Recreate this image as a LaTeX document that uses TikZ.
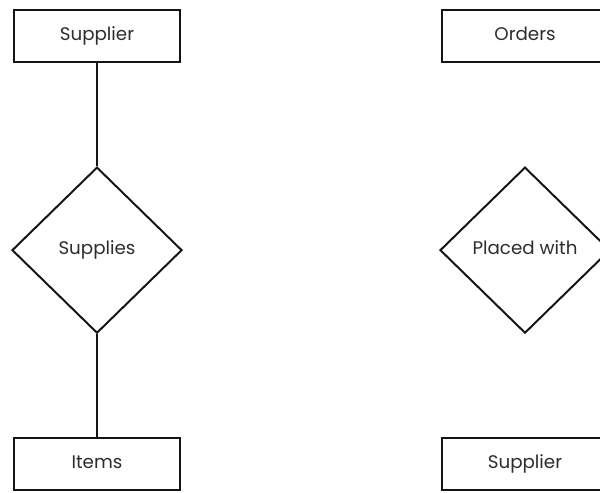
\documentclass[tikz,border=0pt]{standalone}
\usepackage{fontspec}
\setmainfont{Poppins}
\usepackage{tikz}
\usetikzlibrary{
  positioning,
  shapes.geometric
}
\definecolor{erline}{RGB}{20,20,20}
\definecolor{ertext}{RGB}{45,45,45}
\tikzset{
  entitybox/.style={
    draw=erline, fill=white, line width=1.4pt,
    minimum width=4.15cm, minimum height=1.3cm, inner sep=0pt,
    text height=1.6ex, text depth=.4ex,
    font=\fontsize{13}{15}\selectfont, text=ertext, align=center
  },
  relnode/.style={
    diamond, draw=erline, fill=white, line width=1.4pt,
    minimum width=4.25cm, minimum height=4.15cm, inner sep=0pt,
    text height=1.6ex, text depth=.4ex,
    font=\fontsize{13}{15}\selectfont, text=ertext, align=center
  },
  linkline/.style={
    line width=1.4pt, draw=erline
  }
}
\begin{document}
\begin{tikzpicture}[node distance=2.58cm]
  \clip (0,0) rectangle (15,-12.325);
  \useasboundingbox (0,0) rectangle (15,-12.325);
  % left relationship
  \node[entitybox] (supplier) at (2.425,-0.9) {Supplier};
  \node[relnode, below=of supplier] (supplies) {Supplies};
  \node[entitybox, below=of supplies] (items) {Items};
  \draw[linkline] (supplier) -- (supplies);
  \draw[linkline] (supplies) -- (items);
  % right relationship
  \node[entitybox] (orders) at (13.125,-0.9) {Orders};
  \node[relnode, below=of orders] (placedwith) {Placed with};
  \node[entitybox, below=of placedwith] (supplierb) {Supplier};
\end{tikzpicture}
\end{document}
